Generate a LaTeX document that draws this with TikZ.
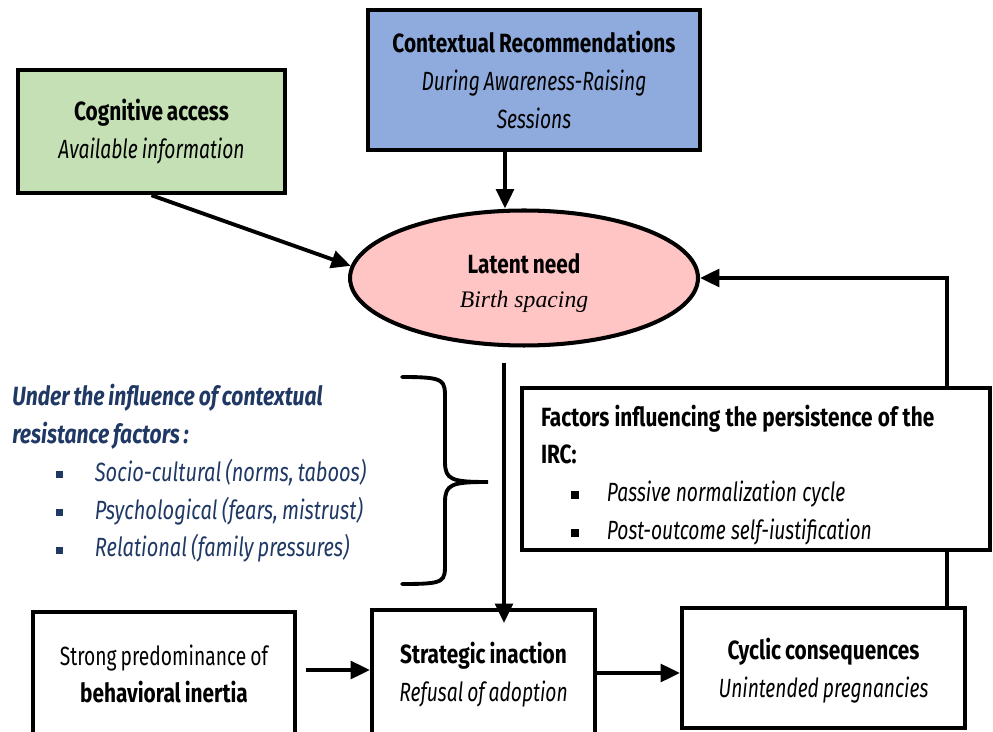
\documentclass[tikz,border=0pt]{standalone}
\usepackage{fontspec}
\setmainfont{Fira Sans}[FakeStretch=0.73, WordSpace=0.8,
 BoldFeatures={FakeStretch=0.79}, BoldItalicFeatures={FakeStretch=0.8}]
\newfontfamily\listfont{Fira Sans}[FakeStretch=0.76, WordSpace=0.8]
\newfontfamily\timesit{Liberation Serif}
\usetikzlibrary{shapes.geometric}
\usetikzlibrary{arrows.meta}

\definecolor{cogGreen}{HTML}{C5E0B4}
\definecolor{ctxBlue}{HTML}{8FAADC}
\definecolor{needPink}{HTML}{FFC5C5}
\definecolor{navyText}{HTML}{1F3864}

\newcommand{\sqbul}[1]{\rule[1.6pt]{#1}{#1}}

\tikzset{
 box/.style={draw=black, line width=2.6pt, align=center, inner sep=0pt},
 arr/.style={line width=2.2pt, -{Triangle[length=11pt,width=10pt]}},
}

\begin{document}
\begin{tikzpicture} [x=.02cm, y=-.02cm, font=\fontsize{15}{21.5}\selectfont]
\clip (0,0) rectangle (993,732);
\useasboundingbox (0,0) rectangle (993,732);

% top boxes
\node[box, fill=cogGreen, minimum width=5.34cm, minimum height=2.46cm] (cog) at (151.5,131.5)
 {\textbf{Cognitive access}\\ \textit{Available information}};
\node[box, fill=ctxBlue, minimum width=6.64cm, minimum height=2.8cm] (ctx) at (534,80)
 {\textbf{Contextual Recommendations}\\ \textit{During Awareness-Raising}\\ \textit{Sessions}};

% latent need
\node[box, ellipse, fill=needPink, line width=2.3pt, minimum width=6.96cm, minimum height=2.7cm] (need) at (524,278)
 {\rule{0pt}{17pt}\textbf{Latent need}\\[-2pt] {\timesit\itshape\fontsize{13.5}{16}\selectfont Birth spacing}};

% bottom row
\node[box, line width=2.3pt, minimum width=5.24cm, minimum height=2.48cm] (inert) at (164,674)
 {Strong predominance of\\ \textbf{behavioral inertia}};
\node[box, line width=2.3pt, minimum width=4.46cm, minimum height=2.52cm] (str) at (483.5,673)
 {\rule{0pt}{14pt}\textbf{Strategic inaction}\\ \textit{Refusal of adoption}};
\node[box, line width=2.3pt, minimum width=5.66cm, minimum height=2.4cm] (cyc) at (823.5,668)
 {\rule{0pt}{15pt}\textbf{Cyclic consequences}\\ \textit{Unintended pregnancies}};

% feedback loop (under the factors box)
\draw[arr] ([xshift=-.4cm]cyc.north east) |- (need.east);

\node[box, fill=white, line width=2.3pt, minimum width=9.36cm, minimum height=3.24cm,
 text width=8.6cm, align=left] (fact) at (756,469)
 {\spaceskip=.2em\relax
  \rule{0pt}{19pt}\textbf{Factors influencing the persistence of the}\\
  \textbf{IRC:}\\
  \hspace*{17pt}\sqbul{4.5pt}\hspace{16pt}\textit{Passive normalization cycle}\\
  \hspace*{17pt}\sqbul{4.5pt}\hspace{16pt}\textit{Post-outcome self-iustification}};

% resistance factors
\node[anchor=north west, inner sep=0pt, align=left, text=navyText] (resist) at (12,384)
 {\textbf{\textit{Under the influence of contextual}}\\
  \textbf{\textit{resistance factors :}}\\
  \hspace*{25pt}\sqbul{4pt}\hspace{18pt}{\listfont\itshape Socio-cultural (norms, taboos)}\\
  \hspace*{25pt}\sqbul{4pt}\hspace{18pt}{\listfont\itshape Psychological (fears, mistrust)}\\
  \hspace*{25pt}\sqbul{4pt}\hspace{18pt}{\listfont\itshape Relational (family pressures)}};
\draw[line width=2.2pt, line cap=round] (402,377) .. controls (446,377) and (445,380) .. (445,400)
 -- (445,462) .. controls (445,480) and (452,482) .. (488,482)
 .. controls (452,482) and (445,484) .. (445,502)
 -- (445,562) .. controls (445,582) and (446,584) .. (402,584);

% arrows
\draw[arr] (cog.south) -- (need.176);
\draw[arr] ([xshift=-.58cm]ctx.south) -- ([xshift=-.58cm]ctx.south |- need.north);
\draw[arr] ([shift={(-.4cm,-.3cm)}]need.south) -- ([shift={(-.4cm,-.3cm)}]need.south |- str.north);
\draw[arr, shorten <=5pt] ([yshift=.08cm]inert.east) -- ([yshift=.08cm]inert.east -| str.west);
\draw[arr] (str.east) -- (str.east -| cyc.west);
\end{tikzpicture}
\end{document}
